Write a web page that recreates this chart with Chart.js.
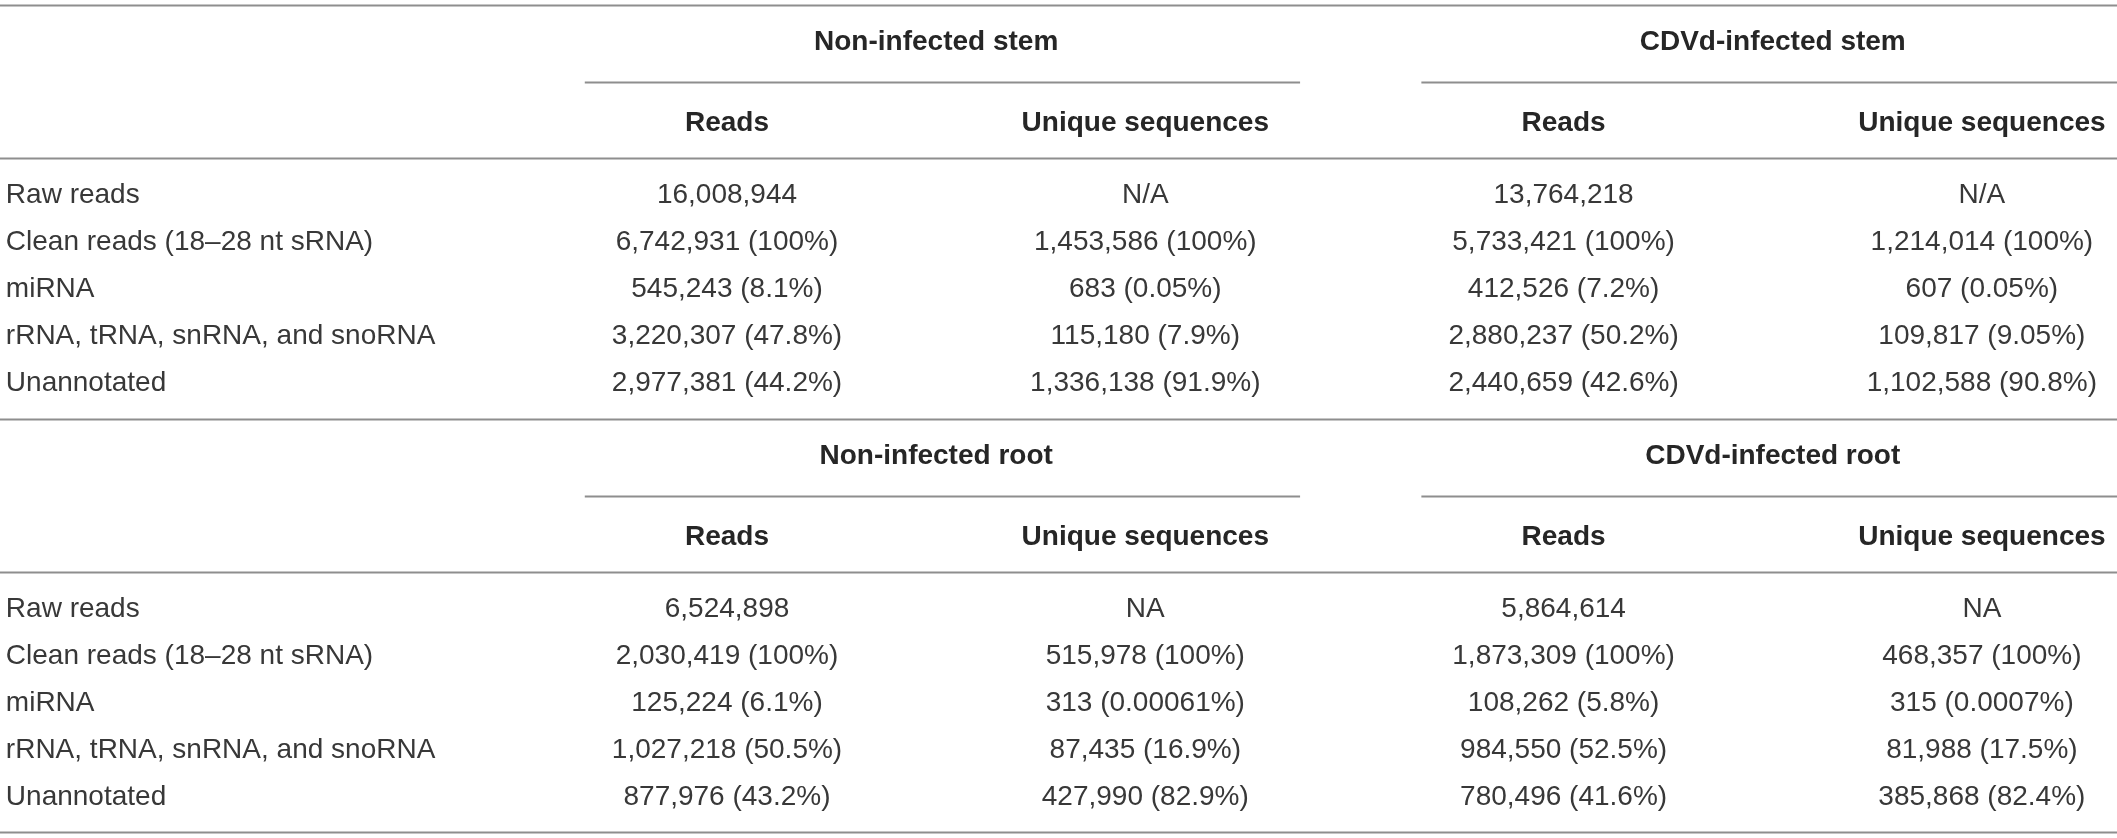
<!DOCTYPE html>
<html>
<head>
<meta charset="utf-8">
<script src="https://cdn.jsdelivr.net/npm/chart.js@4/dist/chart.umd.min.js"></script>
<style>
  html, body { margin: 0; padding: 0; background: #fff; }
  #wrap { width: 2117px; height: 838px; position: relative; }
</style>
</head>
<body>
<div id="wrap"><canvas id="table"></canvas></div>
<script>
// table content
const rowLabels = ['Raw reads', 'Clean reads (18–28 nt sRNA)', 'miRNA', 'rRNA, tRNA, snRNA, and snoRNA', 'Unannotated'];
const subHeaders = ['Reads', 'Unique sequences'];
const stemGroups = ['Non-infected stem', 'CDVd-infected stem'];
const rootGroups = ['Non-infected root', 'CDVd-infected root'];

const stemNonReads = ['16,008,944', '6,742,931 (100%)', '545,243 (8.1%)', '3,220,307 (47.8%)', '2,977,381 (44.2%)'];
const stemNonUnique = ['N/A', '1,453,586 (100%)', '683 (0.05%)', '115,180 (7.9%)', '1,336,138 (91.9%)'];
const stemInfReads = ['13,764,218', '5,733,421 (100%)', '412,526 (7.2%)', '2,880,237 (50.2%)', '2,440,659 (42.6%)'];
const stemInfUnique = ['N/A', '1,214,014 (100%)', '607 (0.05%)', '109,817 (9.05%)', '1,102,588 (90.8%)'];

const rootNonReads = ['6,524,898', '2,030,419 (100%)', '125,224 (6.1%)', '1,027,218 (50.5%)', '877,976 (43.2%)'];
const rootNonUnique = ['NA', '515,978 (100%)', '313 (0.00061%)', '87,435 (16.9%)', '427,990 (82.9%)'];
const rootInfReads = ['5,864,614', '1,873,309 (100%)', '108,262 (5.8%)', '984,550 (52.5%)', '780,496 (41.6%)'];
const rootInfUnique = ['NA', '468,357 (100%)', '315 (0.0007%)', '81,988 (17.5%)', '385,868 (82.4%)'];

// layout, in scale units (x: column index, y: row index)
const LABEL_X = -0.724;
const BLOCK_Y = [0, 8.8];
const Y_RULE_TOP = 0.106, Y_GROUP = 0.9, Y_UNDER = 1.745, Y_SUB = 2.63, Y_RULE_SUB = 3.362, Y_ROW0 = 4.16, Y_RULE_END = 8.91;

const FONT_FAMILY = '"Liberation Sans", Arial, Helvetica, sans-serif';
const TEXT_COLOR = '#383838';
const HEAD_COLOR = '#262626';
const RULE_COLOR = '#8e8e8e';

const blocks = [
    {groups: stemGroups, cols: [stemNonReads, stemNonUnique, stemInfReads, stemInfUnique]},
    {groups: rootGroups, cols: [rootNonReads, rootNonUnique, rootInfReads, rootInfUnique]}
];

function cellPoints(values, x, blockIdx) {
    return values.map((v, i) => ({x: x, y: BLOCK_Y[blockIdx] + Y_ROW0 + i, text: v}));
}

let datasets = [];
blocks.forEach((b, bi) => {
    datasets.push({label: 'labels' + bi, align: 'left', data: cellPoints(rowLabels, LABEL_X, bi)});
    b.cols.forEach((col, ci) => {
        datasets.push({label: 'col' + bi + ci, align: 'center', data: cellPoints(col, ci + 1, bi)});
    });
});

const tablePlugin = {
    id: 'tableText',
    afterDraw(chart) {
        const ctx = chart.ctx;
        const xs = chart.scales.x, ys = chart.scales.y;
        ctx.save();

        // rules
        ctx.strokeStyle = RULE_COLOR;
        ctx.lineWidth = 2;
        const hline = (x0, x1, y) => {
            const py = Math.round(ys.getPixelForValue(y)) + 0.5;
            ctx.beginPath();
            ctx.moveTo(xs.getPixelForValue(x0), py);
            ctx.lineTo(xs.getPixelForValue(x1), py);
            ctx.stroke();
        };
        BLOCK_Y.forEach((off, bi) => {
            if (bi == 0) hline(xs.min, xs.max, off + Y_RULE_TOP);
            hline(xs.min, xs.max, off + Y_RULE_SUB);
            hline(xs.min, xs.max, off + Y_RULE_END);
            hline(0.66, 2.37, off + Y_UNDER);
            hline(2.66, xs.max, off + Y_UNDER);
        });

        // headers
        ctx.fillStyle = HEAD_COLOR;
        ctx.textBaseline = 'middle';
        ctx.textAlign = 'center';
        ctx.font = 'bold 28px ' + FONT_FAMILY;
        blocks.forEach((b, bi) => {
            const off = BLOCK_Y[bi];
            b.groups.forEach((g, gi) => {
                ctx.fillText(g, xs.getPixelForValue(1.5 + gi * 2), ys.getPixelForValue(off + Y_GROUP));
                subHeaders.forEach((s, si) => {
                    ctx.fillText(s, xs.getPixelForValue(1 + gi * 2 + si), ys.getPixelForValue(off + Y_SUB));
                });
            });
        });

        // body cells, placed at the dataset points
        ctx.fillStyle = TEXT_COLOR;
        ctx.font = '28px ' + FONT_FAMILY;
        chart.data.datasets.forEach((ds, di) => {
            const meta = chart.getDatasetMeta(di);
            ctx.textAlign = ds.align;
            meta.data.forEach((pt, i) => {
                ctx.fillText(ds.data[i].text, pt.x, pt.y);
            });
        });
        ctx.restore();
    }
};

new Chart(document.getElementById('table'), {
    type: 'scatter',
    data: {datasets: datasets},
    options: {
        responsive: true,
        maintainAspectRatio: false,
        animation: false,
        events: [],
        layout: {padding: 0},
        elements: {point: {radius: 0, hoverRadius: 0}},
        plugins: {legend: {display: false}, tooltip: {enabled: false}},
        scales: {
            x: {type: 'linear', min: -0.738, max: 4.323, display: false},
            y: {type: 'linear', min: 0, max: 17.83, reverse: true, display: false}
        }
    },
    plugins: [tablePlugin]
});
</script>
</body>
</html>
